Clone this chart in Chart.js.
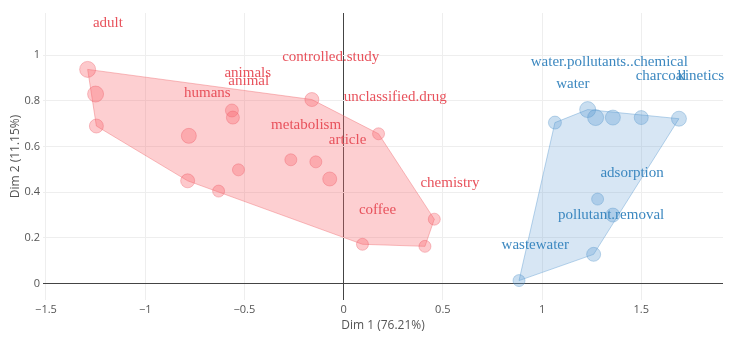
<!DOCTYPE html>
<html>
<head>
<meta charset="utf-8">
<script src="https://cdn.jsdelivr.net/npm/chart.js@4.4.1/dist/chart.umd.min.js"></script>
<style>
  html, body { margin: 0; padding: 0; background: #fff; }
  #wrap { width: 732px; height: 337px; position: relative; }
</style>
</head>
<body>
<div id="wrap"><canvas id="chart"></canvas></div>
<script>
// Individuals (documents) per cluster: Dim 1, Dim 2, marker weight
const redX = [-1.29, -1.25, -1.246, -0.78, -0.786, -0.63, -0.563, -0.558, -0.53, -0.266, -0.14, -0.07, -0.16, 0.176, 0.095, 0.41, 0.457];
const redY = [0.938, 0.83, 0.69, 0.647, 0.45, 0.405, 0.758, 0.727, 0.498, 0.542, 0.533, 0.458, 0.806, 0.656, 0.172, 0.163, 0.282];
const redWeight = [8, 8, 7, 7.5, 7, 6, 6.5, 6.5, 6, 6, 6, 7, 7, 6, 6, 6, 6];

const blueX = [1.065, 1.23, 1.27, 1.357, 1.50, 1.69, 1.28, 1.357, 1.26, 0.884];
const blueY = [0.705, 0.762, 0.727, 0.727, 0.727, 0.722, 0.37, 0.30, 0.128, 0.013];
const blueWeight = [6.5, 8, 8, 7.5, 7, 7.5, 6, 7, 7, 6];

// Word labels
const redWords = ['adult', 'controlled.study', 'animals', 'animal', 'humans', 'unclassified.drug', 'metabolism', 'article', 'chemistry', 'coffee'];
const redWordX = [-1.188, -0.065, -0.483, -0.478, -0.687, 0.26, -0.189, 0.02, 0.536, 0.171];
const redWordY = [1.141, 0.991, 0.921, 0.885, 0.833, 0.815, 0.692, 0.63, 0.44, 0.322];

const blueWords = ['water.pollutants..chemical', 'charcoal', 'kinetics', 'water', 'adsorption', 'pollutant.removal', 'wastewater'];
const blueWordX = [1.339, 1.60, 1.80, 1.155, 1.454, 1.348, 0.966];
const blueWordY = [0.969, 0.907, 0.907, 0.872, 0.485, 0.30, 0.167];

const xTicks = [-1.5, -1, -0.5, 0, 0.5, 1, 1.5];
const yTicks = [0, 0.2, 0.4, 0.6, 0.8, 1];

const RED = '#e8525c';
const BLUE = '#3c88c0';

function toPoints(xs, ys) {
  return xs.map((x, i) => ({ x, y: ys[i] }));
}

// monotone chain convex hull, closed
function hull(pts) {
  const p = pts.slice().sort((a, b) => a.x - b.x || a.y - b.y);
  const cross = (o, a, b) => (a.x - o.x) * (b.y - o.y) - (a.y - o.y) * (b.x - o.x);
  const lower = [], upper = [];
  for (const q of p) {
    while (lower.length >= 2 && cross(lower[lower.length - 2], lower[lower.length - 1], q) <= 0) lower.pop();
    lower.push(q);
  }
  for (let i = p.length - 1; i >= 0; i--) {
    const q = p[i];
    while (upper.length >= 2 && cross(upper[upper.length - 2], upper[upper.length - 1], q) <= 0) upper.pop();
    upper.push(q);
  }
  upper.pop(); lower.pop();
  const h = lower.concat(upper);
  h.push(h[0]);
  return h;
}

const redPts = toPoints(redX, redY);
const bluePts = toPoints(blueX, blueY);

const fmt = v => (v < 0 ? '\u2212' + Math.abs(v) : String(v));

const wordLabels = {
  id: 'wordLabels',
  afterDatasetsDraw(chart) {
    const { ctx, scales: { x, y } } = chart;
    ctx.save();
    ctx.font = '15px "Liberation Serif", "DejaVu Serif", serif';
    ctx.textAlign = 'center';
    ctx.textBaseline = 'middle';
    ctx.fillStyle = RED;
    redWords.forEach((w, i) => ctx.fillText(w, x.getPixelForValue(redWordX[i]), y.getPixelForValue(redWordY[i])));
    ctx.fillStyle = BLUE;
    blueWords.forEach((w, i) => ctx.fillText(w, x.getPixelForValue(blueWordX[i]), y.getPixelForValue(blueWordY[i])));
    ctx.restore();
  }
};

new Chart(document.getElementById('chart').getContext('2d'), {
  type: 'scatter',
  data: {
    datasets: [
      {
        data: hull(redPts),
        showLine: true,
        fill: 'shape',
        backgroundColor: 'rgba(248, 110, 115, 0.33)',
        borderColor: 'rgba(240, 110, 115, 0.45)',
        borderWidth: 1,
        pointRadius: 0,
        tension: 0,
        order: 3,
      },
      {
        data: hull(bluePts),
        showLine: true,
        fill: 'shape',
        backgroundColor: 'rgba(110, 165, 215, 0.28)',
        borderColor: 'rgba(100, 160, 210, 0.45)',
        borderWidth: 1,
        pointRadius: 0,
        tension: 0,
        order: 3,
      },
      {
        data: redPts,
        pointRadius: redWeight,
        backgroundColor: 'rgba(248, 100, 110, 0.35)',
        borderColor: 'rgba(235, 90, 100, 0.35)',
        borderWidth: 1,
        order: 1,
      },
      {
        data: bluePts,
        pointRadius: blueWeight,
        backgroundColor: 'rgba(90, 155, 210, 0.33)',
        borderColor: 'rgba(80, 145, 200, 0.35)',
        borderWidth: 1,
        order: 1,
      },
    ],
  },
  options: {
    responsive: true,
    maintainAspectRatio: false,
    animation: false,
    layout: { padding: { top: 13, right: 6, left: 0, bottom: 0 } },
    plugins: { legend: { display: false }, tooltip: { enabled: false } },
    scales: {
      x: {
        type: 'linear',
        min: -1.515,
        max: 1.912,
        afterBuildTicks: s => { s.ticks = xTicks.map(v => ({ value: v })); },
        afterFit: s => { s.height = 37; },
        border: { display: false },
        grid: {
          drawTicks: false,
          color: c => (c.tick && c.tick.value === 0 ? '#444' : '#eeeeee'),
          lineWidth: 1,
        },
        ticks: {
          padding: 3,
          color: '#555',
          font: { family: '"Open Sans", sans-serif', size: 11 },
          callback: v => fmt(v),
          maxRotation: 0,
        },
        title: {
          display: true,
          text: 'Dim 1 (76.21%)',
          color: '#555',
          font: { family: '"Open Sans", sans-serif', size: 12 },
          padding: { top: 0, bottom: 4 },
        },
      },
      y: {
        type: 'linear',
        min: -0.072,
        max: 1.185,
        afterBuildTicks: s => { s.ticks = yTicks.map(v => ({ value: v })); },
        afterFit: s => { s.width = 43; },
        border: { display: false },
        grid: {
          drawTicks: false,
          color: c => (c.tick && c.tick.value === 0 ? '#444' : '#eeeeee'),
          lineWidth: 1,
        },
        ticks: {
          padding: 3,
          color: '#555',
          font: { family: '"Open Sans", sans-serif', size: 11 },
          callback: v => fmt(v),
        },
        title: {
          display: true,
          text: 'Dim 2 (11.15%)',
          color: '#555',
          font: { family: '"Open Sans", sans-serif', size: 12 },
          padding: { top: 8, bottom: 0 },
        },
      },
    },
  },
  plugins: [wordLabels],
});
</script>
</body>
</html>
